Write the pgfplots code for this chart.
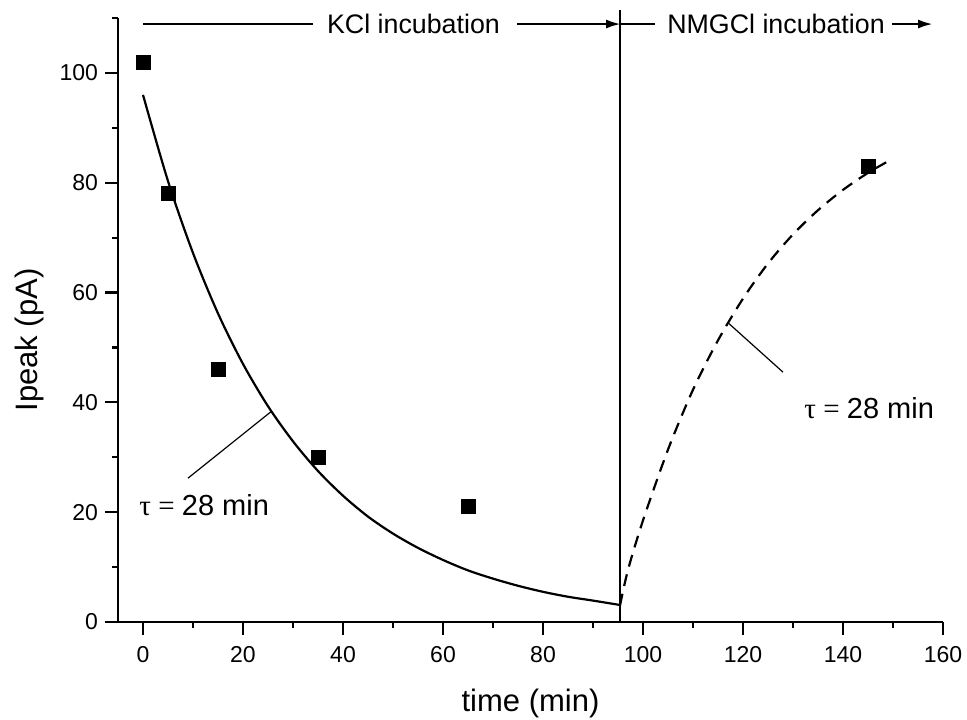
\documentclass[border=0pt]{standalone}
\usepackage{fontspec}
\setmainfont{Liberation Sans}
\newfontfamily\symfont{Liberation Serif}
\usepackage{pgfplots}
\pgfplotsset{compat=1.18}
\usetikzlibrary{arrows.meta}

\begin{document}
\begin{tikzpicture}
\useasboundingbox (-59pt,-48.5pt) rectangle (424.5pt,311pt);
\begin{axis}[
  scale only axis, width=412.5pt, height=302pt,
  xmin=-5, xmax=160, ymin=0, ymax=110,
  axis lines*=left,
  axis line style={line width=1.1pt, -},
  xtick={0,20,...,160}, ytick={0,20,...,100},
  minor xtick={10,30,...,150}, minor ytick={10,30,...,110},
  tick align=outside, major tick length=6.5pt, minor tick length=3pt,
  tick style={line width=1.1pt, black},
  ticklabel style={font=\fontsize{11.5}{13}\selectfont},
  xticklabel style={yshift=-2pt},
  /pgf/number format/assume math mode=true,
  xlabel={time (min)}, ylabel={Ipeak (pA)},
  label style={font=\fontsize{15.5}{18}\selectfont},
  xlabel style={at={(axis description cs:0.5,-0.1474)}, anchor=base},
  ylabel style={at={(axis description cs:-0.097,0.467)}, anchor=base},
  clip=false,
]
% measured currents
\addplot[only marks, mark=square*, mark size=3.5pt, black] coordinates {
  (0,102) (5,78) (15,46) (35,30) (65,21) (145,83)};
% decay fit, tau = 28 min
\addplot[black, line width=1.1pt, smooth] coordinates {
  (0,96) (5,80.3) (10,67.2) (15,56.2) (20,47.0) (25,39.3) (30,32.9)
  (35,27.5) (40,23.0) (45,19.2) (50,16.1) (55,13.5) (60,11.3) (65,9.4)
  (70,7.9) (75,6.6) (80,5.5) (85,4.6) (90,3.9) (95.4,3.1)};
% recovery fit, tau = 28 min
\addplot[black, line width=1.1pt, smooth, dash pattern=on 6pt off 4pt] coordinates {
  (95.4,3.0) (97,9.5) (100,18.5) (105,31.4) (110,42.3) (115,51.3)
  (120,58.9) (125,65.3) (130,70.6) (135,75.0) (140,78.7) (145,81.8) (149,83.9)};

\draw[line width=0.6pt] (axis cs:95.4,0) -- (axis cs:95.4,111.5);
\draw[line width=0.6pt] (axis cs:0,108.9) -- (axis cs:34,108.9);
\node[font=\fontsize{13.4}{16}\selectfont] at (axis cs:54.1,108.9) {KCl incubation};
\draw[line width=0.6pt, -{Latex[length=7pt,width=4.5pt]}] (axis cs:74.8,108.9) -- (axis cs:95.4,108.9);
\draw[line width=0.6pt] (axis cs:95.4,108.9) -- (axis cs:102.4,108.9);
\node[font=\fontsize{13.4}{16}\selectfont] at (axis cs:126.6,108.9) {NMGCl incubation};
\draw[line width=0.6pt, -{Latex[length=7pt,width=4.5pt]}] (axis cs:149.8,108.9) -- (axis cs:157.8,108.9);

\draw[line width=0.6pt] (axis cs:9,26.2) -- (axis cs:25.6,38.3);
\node[anchor=west, inner sep=0pt, font=\fontsize{14.5}{17}\selectfont] at (axis cs:-0.8,21.3) {{\symfont τ = }28 min};
\draw[line width=0.6pt] (axis cs:117,54.5) -- (axis cs:128,45.5);
\node[anchor=west, inner sep=0pt, font=\fontsize{14.5}{17}\selectfont] at (axis cs:132.2,39) {{\symfont τ = }28 min};
\end{axis}
\end{tikzpicture}
\end{document}
